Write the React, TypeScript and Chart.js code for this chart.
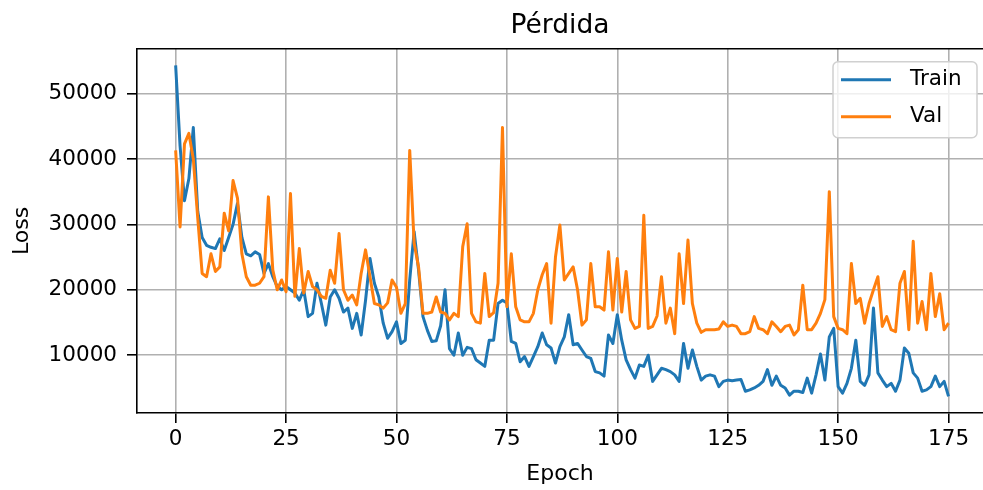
import { useEffect, useRef } from "react";
import { Chart, registerables } from "chart.js";

Chart.register(...registerables);

// Training history: loss per epoch
const epochs = Array.from({ length: 176 }, (_, i) => i);

const trainLoss = [
  54300, 42000, 33600, 37000, 44800, 32000, 28000, 26800, 26500, 26300,
  27800, 26000, 28000, 30000, 33200, 28000, 25500, 25200, 25800, 25400,
  22500, 24000, 22000, 20500, 20000, 20500, 20000, 19500, 18400, 20000,
  15900, 16400, 21000, 17900, 14600, 18900, 20000, 18700, 16600, 17200,
  14100, 16400, 13100, 18400, 24800, 21000, 18900, 14900, 12600, 13600,
  15100, 11800, 12300, 21500, 28900, 23000, 15900, 13800, 12100, 12200,
  14500, 20000, 11000, 10000, 13400, 10000, 11200, 11000, 9300, 8800,
  8300, 12300, 12300, 17900, 18400, 18000, 12100, 11800, 9000, 9800,
  8300, 9800, 11300, 13400, 11600, 11100, 8800, 11300, 12800, 16200,
  11600, 11800, 10800, 9800, 9500, 7500, 7300, 6800, 13100, 11800,
  16200, 12300, 9300, 7800, 6500, 8500, 8300, 10000, 6000, 7000,
  8000, 7800, 7500, 7000, 6000, 11800, 8000, 10800, 8300, 6200,
  6800, 7000, 6800, 5200, 6000, 6200, 6100, 6200, 6300, 4500,
  4700, 5000, 5400, 6000, 7800, 5400, 6800, 5400, 5000, 3900,
  4500, 4500, 4300, 6500, 4200, 7000, 10200, 6200, 12800, 14100,
  5200, 4200, 5700, 8000, 12300, 6000, 5400, 7000, 17200, 7300,
  6200, 5200, 5700, 4500, 6200, 11100, 10300, 7300, 6500, 4500,
  4700, 5200, 6800, 5200, 6000, 3700,
];

const valLoss = [
  41300, 29600, 42300, 43900, 40000, 31000, 22500, 22000, 25500, 22800,
  23500, 31700, 29000, 36700, 34000, 25500, 22000, 20700, 20700, 21000,
  22000, 34200, 23000, 20000, 21500, 19700, 34700, 19000, 26300, 19500,
  22800, 20500, 20000, 19000, 18700, 23000, 21000, 28600, 20000, 18400,
  19200, 17700, 22500, 26100, 22000, 17900, 17700, 17200, 18000, 21500,
  20400, 16400, 17900, 41300, 27100, 23500, 16400, 16400, 16600, 18900,
  16600, 16400, 15400, 16400, 15900, 26600, 30100, 16400, 15100, 14900,
  22500, 15900, 16500, 21000, 44800, 17400, 25500, 17400, 15400, 15100,
  15100, 16400, 20000, 22300, 24000, 14900, 25000, 29900, 21500, 22500,
  23500, 20000, 14600, 15400, 24000, 17400, 17400, 16900, 25800, 16900,
  24800, 16600, 22800, 15400, 14100, 14400, 31400, 14100, 14400, 16000,
  22000, 14900, 17200, 13300, 25500, 17900, 27600, 17900, 14900, 13500,
  13900, 13900, 13900, 14000, 15100, 14400, 14600, 14400, 13300, 13300,
  13600, 15900, 14100, 13900, 13300, 15100, 14400, 13600, 14400, 14600,
  13100, 13900, 20700, 13900, 13900, 14900, 16400, 18500, 35000, 15900,
  14100, 13900, 13300, 24000, 17900, 18700, 14900, 17900, 20000, 22000,
  14400, 15900, 13900, 13600, 21000, 22800, 13900, 27400, 14900, 18200,
  13900, 22500, 15900, 19400, 13900, 14900,
];

const xTicks = [0, 25, 50, 75, 100, 125, 150, 175];
const yTicks = [10000, 20000, 30000, 40000, 50000];

const seriesNames = ["Train", "Val"];
const seriesColors = ["#1f77b4", "#ff7f0e"];

const FONT = "'DejaVu Sans', 'Liberation Sans', sans-serif";

// Top spine plus a matplotlib-style legend in the upper-right corner
const framePlugin = {
  id: "frameAndLegend",
  afterDraw(chart: any) {
    const { ctx, chartArea: a } = chart;
    ctx.save();

    ctx.strokeStyle = "#000";
    ctx.lineWidth = 1.6;
    ctx.beginPath();
    ctx.moveTo(a.left, a.top);
    ctx.lineTo(a.right, a.top);
    ctx.stroke();

    const boxL = a.right - 150;
    const boxR = a.right - 6;
    const boxT = a.top + 13;
    const boxB = a.top + 89;
    const r = 5;
    ctx.beginPath();
    ctx.moveTo(boxL + r, boxT);
    ctx.lineTo(boxR - r, boxT);
    ctx.arcTo(boxR, boxT, boxR, boxT + r, r);
    ctx.lineTo(boxR, boxB - r);
    ctx.arcTo(boxR, boxB, boxR - r, boxB, r);
    ctx.lineTo(boxL + r, boxB);
    ctx.arcTo(boxL, boxB, boxL, boxB - r, r);
    ctx.lineTo(boxL, boxT + r);
    ctx.arcTo(boxL, boxT, boxL + r, boxT, r);
    ctx.closePath();
    ctx.fillStyle = "rgba(255,255,255,0.8)";
    ctx.fill();
    ctx.strokeStyle = "#d0d0d0";
    ctx.lineWidth = 1.5;
    ctx.stroke();

    ctx.font = `21.5px ${FONT}`;
    ctx.textBaseline = "middle";
    ctx.textAlign = "left";
    seriesNames.forEach((name, i) => {
      const y = boxT + 18 + i * 37;
      ctx.strokeStyle = seriesColors[i];
      ctx.lineWidth = 3;
      ctx.beginPath();
      ctx.moveTo(boxL + 8, y);
      ctx.lineTo(boxL + 58, y);
      ctx.stroke();
      ctx.fillStyle = "#000";
      ctx.fillText(name, boxL + 77, y);
    });

    ctx.restore();
  },
};

export default function App() {
  const canvasRef = useRef<HTMLCanvasElement | null>(null);

  useEffect(() => {
    const canvas = canvasRef.current;
    if (!canvas) return;
    Chart.defaults.font.family = FONT;

    const chart = new Chart(canvas, {
      type: "line",
      data: {
        datasets: [
          {
            label: seriesNames[0],
            data: trainLoss.map((y, i) => ({ x: epochs[i], y })),
            borderColor: seriesColors[0],
            backgroundColor: seriesColors[0],
            borderWidth: 3,
            pointRadius: 0,
            tension: 0,
            borderJoinStyle: "round",
            order: 1,
          },
          {
            label: seriesNames[1],
            data: valLoss.map((y, i) => ({ x: epochs[i], y })),
            borderColor: seriesColors[1],
            backgroundColor: seriesColors[1],
            borderWidth: 3,
            pointRadius: 0,
            tension: 0,
            borderJoinStyle: "round",
            order: 0,
          },
        ],
      },
      options: {
        responsive: false,
        animation: false,
        devicePixelRatio: 1,
        layout: { padding: 0 },
        plugins: {
          legend: { display: false },
          tooltip: { enabled: false },
          title: {
            display: true,
            text: "Pérdida",
            fullSize: false,
            color: "#000",
            font: { family: FONT, size: 26.5, weight: "normal" },
            padding: { top: 10, bottom: 7 },
          },
        },
        scales: {
          x: {
            type: "linear",
            min: -8.75,
            max: 182.8,
            afterBuildTicks: (s: any) => {
              s.ticks = xTicks.map((v) => ({ value: v }));
            },
            afterFit: (s: any) => {
              s.height = 77;
            },
            ticks: {
              color: "#000",
              font: { family: FONT, size: 21.5 },
              padding: 4,
              maxRotation: 0,
              autoSkip: false,
              callback: (v: any) => String(v),
            },
            grid: {
              color: "#b0b0b0",
              lineWidth: 1.6,
              tickLength: 10,
              tickColor: "#000",
              tickWidth: 1.6,
            },
            border: { color: "#000", width: 1.6 },
            title: {
              display: true,
              text: "Epoch",
              color: "#000",
              font: { family: FONT, size: 22 },
              padding: { top: 0, bottom: 3 },
            },
          },
          y: {
            type: "linear",
            min: 1170,
            max: 56830,
            afterBuildTicks: (s: any) => {
              s.ticks = yTicks.map((v) => ({ value: v }));
            },
            afterFit: (s: any) => {
              s.width = 137;
            },
            ticks: {
              color: "#000",
              font: { family: FONT, size: 21.5 },
              padding: 10,
              autoSkip: false,
              callback: (v: any) => String(v),
            },
            grid: {
              color: "#b0b0b0",
              lineWidth: 1.6,
              tickLength: 10,
              tickColor: "#000",
              tickWidth: 1.6,
            },
            border: { color: "#000", width: 1.6 },
            title: {
              display: true,
              text: "Loss",
              color: "#000",
              font: { family: FONT, size: 22 },
              padding: { top: 9, bottom: 0 },
            },
          },
        },
      },
      plugins: [framePlugin],
    });

    return () => chart.destroy();
  }, []);

  return (
    <div
      style={{
        position: "absolute",
        left: 0,
        top: 0,
        width: 983,
        height: 490,
        background: "#fff",
        overflow: "hidden",
      }}
    >
      <canvas ref={canvasRef} width={983} height={490} style={{ display: "block" }} />
    </div>
  );
}
